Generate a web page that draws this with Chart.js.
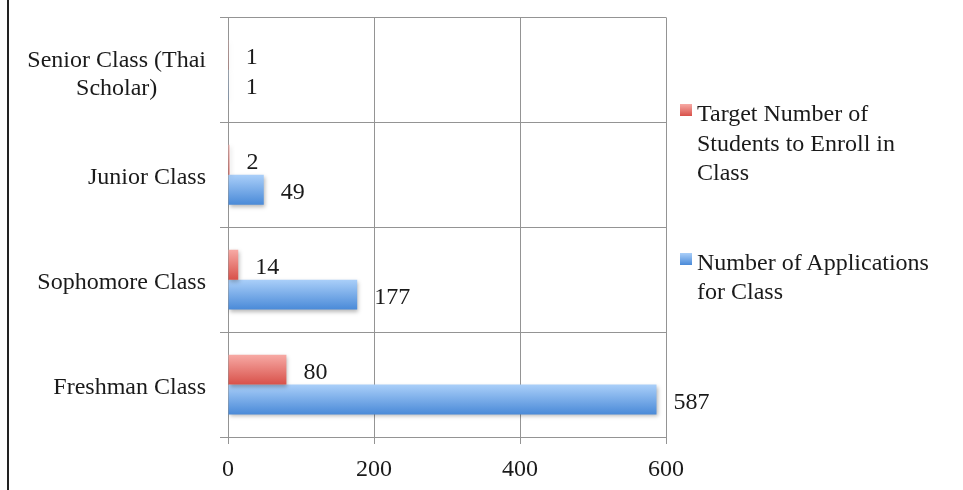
<!DOCTYPE html>
<html>
<head>
<meta charset="utf-8">
<script src="https://cdn.jsdelivr.net/npm/chart.js@4.4.1/dist/chart.umd.min.js"></script>
<style>
  html, body { margin: 0; padding: 0; background: #fff; }
  #wrap { position: relative; width: 963px; height: 490px; overflow: hidden; }
  #leftRule { position: absolute; left: 7px; top: 0; width: 2px; height: 490px; background: #222; }
  #legend { position: absolute; left: 680px; top: 99px; font-family: 'Liberation Serif', 'Times New Roman', serif; font-size: 24px; color: #1a1a1a; }
  .item { position: relative; padding-left: 17px; line-height: 29.5px; }
  .swatch { position: absolute; left: 0; top: 5px; width: 12px; height: 12px; }
</style>
</head>
<body>
<div id="wrap">
  <canvas id="c" width="963" height="490"></canvas>
  <div id="leftRule"></div>
  <div id="legend"></div>
</div>
<script>
// ---- data ----
const categories = [["Senior Class (Thai", "Scholar)"], "Junior Class", "Sophomore Class", "Freshman Class"];
const targetValues = [1, 2, 14, 80];
const applicationValues = [1, 49, 177, 587];
const seriesNames = [["Target Number of", "Students to Enroll in", "Class"], ["Number of Applications", "for Class"]];
const xTicks = [0, 200, 400, 600];

const FONT = "'Liberation Serif', 'Times New Roman', serif";
const CAT_PCT = 0.57;
const palette = [
  { top: '#f7aaa5', bottom: '#d8514a', flat: '#e06a64' },
  { top: '#aacff9', bottom: '#4a8ad8', flat: '#6fa3e6' }
];

function barFill(dsIndex) {
  return (c) => {
    const p = palette[dsIndex];
    const chart = c.chart;
    const ys = chart.scales && chart.scales.y;
    if (!ys || c.type !== 'data' || !chart.chartArea) return p.flat;
    const band = Math.abs(ys.getPixelForValue(1) - ys.getPixelForValue(0));
    const h = band * CAT_PCT / 2;
    const center = ys.getPixelForValue(c.dataIndex);
    const top = dsIndex === 0 ? center - h : center;
    const g = chart.ctx.createLinearGradient(0, top, 0, top + h);
    g.addColorStop(0, p.top);
    g.addColorStop(1, p.bottom);
    return g;
  };
}

const shadowPlugin = {
  id: 'barShadow',
  beforeDatasetsDraw(chart) {
    const ctx = chart.ctx;
    ctx.save();
    ctx.shadowColor = 'rgba(0,0,0,0.28)';
    ctx.shadowBlur = 4;
    ctx.shadowOffsetX = 1;
    ctx.shadowOffsetY = 2;
  },
  afterDatasetsDraw(chart) {
    chart.ctx.restore();
  }
};

const valueLabels = {
  id: 'valueLabels',
  afterDatasetsDraw(chart) {
    const ctx = chart.ctx;
    ctx.save();
    ctx.font = '24px ' + FONT;
    ctx.fillStyle = '#1a1a1a';
    ctx.textAlign = 'left';
    ctx.textBaseline = 'middle';
    chart.data.datasets.forEach((ds, di) => {
      const meta = chart.getDatasetMeta(di);
      meta.data.forEach((el, i) => {
        ctx.fillText(String(ds.data[i]), el.x + 17, el.y + 3);
      });
    });
    ctx.restore();
  }
};

const categoryLabels = {
  id: 'categoryLabels',
  afterDraw(chart) {
    const ctx = chart.ctx;
    const ys = chart.scales.y;
    ctx.save();
    ctx.font = '24px ' + FONT;
    ctx.fillStyle = '#1a1a1a';
    ctx.textAlign = 'center';
    ctx.textBaseline = 'middle';
    const right = ys.right - 8 - 14;
    categories.forEach((cat, i) => {
      const lines = Array.isArray(cat) ? cat : [cat];
      const w = Math.max(...lines.map(l => ctx.measureText(l).width));
      const cy = ys.getPixelForValue(i) + (lines.length > 1 ? 5 : 3);
      lines.forEach((l, j) => {
        ctx.fillText(l, right - w / 2, cy + (j - (lines.length - 1) / 2) * 28);
      });
    });
    ctx.restore();
  }
};

const chart = new Chart(document.getElementById('c'), {
  type: 'bar',
  data: {
    labels: categories,
    datasets: [
      { label: seriesNames[0].join(' '), data: targetValues, backgroundColor: barFill(0), categoryPercentage: CAT_PCT, barPercentage: 1, borderWidth: 0 },
      { label: seriesNames[1].join(' '), data: applicationValues, backgroundColor: barFill(1), categoryPercentage: CAT_PCT, barPercentage: 1, borderWidth: 0 }
    ]
  },
  options: {
    indexAxis: 'y',
    responsive: false,
    animation: false,
    devicePixelRatio: 1,
    layout: { padding: { left: 0, top: 17, right: 297, bottom: 0 } },
    plugins: { legend: { display: false }, tooltip: { enabled: false } },
    scales: {
      x: {
        min: 0, max: 600,
        afterBuildTicks(scale) { scale.ticks = xTicks.map(v => ({ value: v })); },
        afterFit(scale) { scale.height = 53; },
        grid: { color: '#949494', lineWidth: 1, tickLength: 7 },
        border: { color: '#949494', width: 1 },
        ticks: { font: { family: FONT, size: 24 }, color: '#1a1a1a', padding: 11, maxRotation: 0 }
      },
      y: {
        afterFit(scale) { scale.width = 228; },
        grid: { color: '#949494', lineWidth: 1, tickLength: 8, offset: true },
        border: { color: '#949494', width: 1 },
        ticks: { font: { family: FONT, size: 24 }, color: 'rgba(0,0,0,0)' }
      }
    }
  },
  plugins: [shadowPlugin, valueLabels, categoryLabels]
});

// HTML legend built from the datasets
const legend = document.getElementById('legend');
chart.data.datasets.forEach((ds, i) => {
  const item = document.createElement('div');
  item.className = 'item';
  item.style.marginBottom = i === 0 ? '60px' : '0';
  const sw = document.createElement('span');
  sw.className = 'swatch';
  sw.style.background = 'linear-gradient(' + palette[i].top + ',' + palette[i].bottom + ')';
  item.appendChild(sw);
  item.insertAdjacentHTML('beforeend', seriesNames[i].join('<br>'));
  legend.appendChild(item);
});
</script>
</body>
</html>
